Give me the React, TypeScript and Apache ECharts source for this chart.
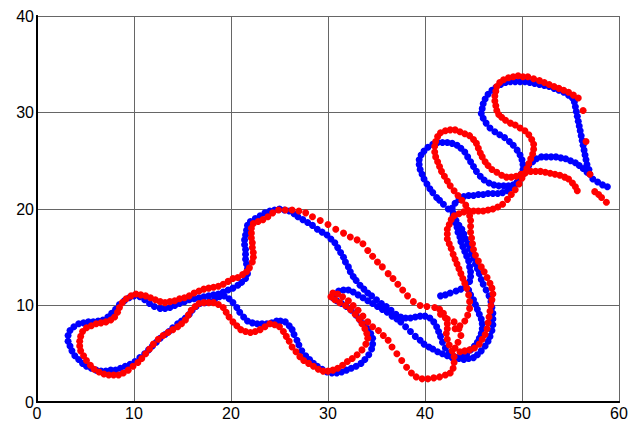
import React, { useEffect, useRef } from "react";
import * as echarts from "echarts";

type P = [number, number];

const xTicks = [0, 10, 20, 30, 40, 50, 60];
const yTicks = [0, 10, 20, 30, 40];

// ---------- BLUE track ----------
const blueTail: P[] = [[58.8,22.3],[58.3,22.5],[57.8,22.8],[57.3,23.1],[57.0,23.6],[56.9,24.1],[56.7,24.6],[56.6,25.1],[56.5,25.6],[56.4,26.1],[56.3,26.6],[56.2,27.1],[56.1,27.6],[56.0,28.1],[55.9,28.6],[55.8,29.1],[55.7,29.6],[55.6,30.1],[55.5,30.6],[55.4,31.1],[55.2,31.5]];
const blueTop: P[] = [[54.8,31.8],[54.3,32.1],[53.8,32.3],[53.3,32.5],[52.8,32.7],[52.3,32.8],[51.8,32.9],[51.3,33.0],[50.8,33.1],[50.3,33.2],[49.8,33.2],[49.3,33.2],[48.8,33.2],[48.3,33.1],[47.8,32.9],[47.3,32.6],[46.9,32.3],[46.5,31.9],[46.2,31.4],[46.0,30.9],[45.9,30.4]];
const blueS: P[] = [[45.8,29.9],[46.0,29.4],[46.3,28.9],[46.7,28.4],[47.2,28.0],[47.7,27.7],[48.2,27.4],[48.7,27.0],[49.1,26.6],[49.5,26.1],[49.8,25.6],[50.0,25.1],[50.1,24.6],[50.1,24.1],[49.9,23.6],[49.7,23.1],[49.4,22.6],[49.0,22.2],[48.5,21.9],[48.0,21.7],[47.5,21.6],[47.0,21.6],[46.5,21.6],[46.0,21.5],[45.5,21.5],[45.0,21.4],[44.5,21.4],[44.0,21.3],[43.5,21.0],[43.1,20.6],[42.8,20.1]];
const blueTwinA: P[] = [[42.9,19.6],[43.0,19.1],[43.1,18.6],[43.3,18.1],[43.4,17.6],[43.6,17.1],[43.7,16.6],[43.9,16.1],[44.1,15.6],[44.3,15.1],[44.5,14.6],[44.6,14.0],[44.7,13.5],[44.7,13.0],[44.6,12.5]];
const blueSpike: P[] = [[44.2,12.1],[43.7,11.7],[43.2,11.5],[42.6,11.3],[42.1,11.1],[41.6,11.0]];
const blueInner: P[] = [[44.5,11.6],[44.7,11.1],[45.0,10.6],[45.2,10.1],[45.4,9.6],[45.6,9.1],[45.8,8.6],[45.9,8.1],[45.9,7.6],[45.8,7.1],[45.6,6.6],[45.4,6.2],[45.1,5.8],[44.7,5.4],[44.3,5.0],[43.8,4.7],[43.3,4.6]];
const blueLower: P[] = [[42.8,4.6],[42.3,4.8],[41.8,5.0],[41.3,5.2],[40.8,5.5],[40.4,5.7],[39.9,6.0],[39.5,6.4],[39.0,6.8],[38.5,7.3],[38.0,7.8],[37.5,8.3],[37.1,8.6],[36.6,8.9],[36.1,9.3],[35.6,9.6],[35.1,9.9],[34.6,10.2],[34.1,10.5],[33.6,10.8],[33.1,11.1],[32.6,11.4],[32.1,11.6],[31.6,11.6],[31.1,11.5],[30.7,11.2],[30.5,10.8]];
const blueU: P[] = [[30.9,10.5],[31.4,10.2],[31.9,9.9],[32.4,9.5],[32.9,9.0],[33.3,8.5],[33.7,8.1],[34.1,7.6],[34.4,7.1],[34.6,6.6],[34.6,6.0],[34.5,5.5],[34.2,4.9],[33.8,4.4],[33.4,4.0],[32.9,3.7],[32.4,3.5],[31.9,3.3],[31.4,3.1],[30.9,3.0],[30.4,3.0],[29.9,3.1],[29.4,3.4],[28.9,3.7],[28.5,4.0],[28.1,4.4],[27.7,4.8],[27.3,5.3],[27.0,5.9],[26.8,6.4],[26.5,7.0],[26.3,7.5],[26.0,7.9],[25.6,8.3],[25.1,8.4],[24.7,8.4],[24.2,8.2],[23.7,8.1],[23.2,8.1],[22.7,8.1],[22.2,8.2],[21.7,8.4],[21.3,8.8],[20.9,9.3],[20.6,9.8],[20.2,10.3],[19.8,10.7],[19.3,11.0],[18.8,10.9]];
const blueLeftLoop: P[] = [[18.3,10.6],[17.8,10.4],[17.3,10.3],[16.8,10.2],[16.4,9.9],[16.0,9.5],[15.7,9.1],[15.3,8.7],[14.9,8.4],[14.5,8.1],[14.0,7.7],[13.6,7.3],[13.2,7.0],[12.7,6.6],[12.3,6.2],[11.9,5.8],[11.5,5.4],[11.1,5.0],[10.6,4.6],[10.1,4.2],[9.6,3.9],[9.1,3.7],[8.6,3.5],[8.1,3.3],[7.6,3.3],[7.1,3.2],[6.6,3.2],[6.1,3.3],[5.6,3.5],[5.1,3.7],[4.7,4.0],[4.3,4.4],[3.9,4.8],[3.6,5.3],[3.4,5.8],[3.2,6.3],[3.2,6.9],[3.4,7.4],[3.8,7.8],[4.3,8.1],[4.8,8.2],[5.3,8.3],[5.8,8.3],[6.3,8.4],[6.8,8.5],[7.3,8.8],[7.7,9.2],[8.1,9.6],[8.5,10.1],[9.0,10.5],[9.5,10.8],[10.0,11.0],[10.6,10.9]];
const blueUpper: P[] = [[11.1,10.6],[11.6,10.2],[12.1,9.9],[12.7,9.7],[13.2,9.7],[13.7,9.8],[14.2,10.0],[14.7,10.2],[15.2,10.4],[15.7,10.6],[16.2,10.7],[16.7,10.8],[17.2,10.9],[17.7,11.0],[18.2,11.1],[18.7,11.2],[19.2,11.4],[19.7,11.6],[20.2,11.8],[20.7,12.1],[21.1,12.4],[21.5,12.8]];
const blueHump: P[] = [[21.7,13.3],[21.7,13.8],[21.6,14.3],[21.5,14.8],[21.5,15.3],[21.5,15.8],[21.4,16.3],[21.4,16.8],[21.5,17.3],[21.6,17.8],[21.7,18.3],[22.0,18.7],[22.5,19.0],[23.0,19.3],[23.5,19.6],[24.0,19.8],[24.5,19.9],[25.0,20.0],[25.5,19.9],[26.0,19.8],[26.5,19.5],[26.9,19.2],[27.4,18.9],[27.9,18.6],[28.4,18.3],[28.9,17.9],[29.4,17.6],[29.9,17.3],[30.3,16.9],[30.7,16.5],[31.0,16.0],[31.3,15.5],[31.6,15.0],[31.8,14.5],[32.1,14.0],[32.3,13.5],[32.6,13.0],[32.9,12.6],[33.3,12.1],[33.7,11.7],[34.1,11.3],[34.5,11.0],[35.0,10.6],[35.5,10.2],[36.0,9.9],[36.5,9.5],[37.0,9.1],[37.5,8.8],[38.0,8.7],[38.5,8.7],[39.0,8.8],[39.5,8.9],[40.0,8.9],[40.5,8.7]];
const blueOuter: P[] = [[40.9,8.3],[41.2,7.8],[41.4,7.3],[41.6,6.8],[41.8,6.2],[42.1,5.6],[42.5,5.1],[43.0,4.7],[43.5,4.5],[44.0,4.4],[44.5,4.5],[45.0,4.6],[45.4,4.9],[45.8,5.3],[46.2,5.8],[46.5,6.3],[46.7,6.8],[46.9,7.4],[47.0,8.0],[47.0,8.6],[47.0,9.2],[46.9,9.8],[46.8,10.4],[46.6,11.0],[46.3,11.6],[46.0,12.2],[45.8,12.7],[45.6,13.3],[45.4,13.8],[45.2,14.3],[45.0,14.9],[44.8,15.4],[44.6,15.9],[44.4,16.4],[44.2,16.9],[44.0,17.4],[43.8,17.9],[43.5,18.3],[43.2,18.8],[42.9,19.3]];
const blueLowerLoop: P[] = [[42.4,20.0],[41.9,20.5],[41.5,20.9],[41.2,21.2],[40.8,21.7],[40.5,22.1],[40.2,22.6],[39.9,23.1],[39.7,23.6],[39.5,24.1],[39.4,24.6],[39.4,25.1],[39.6,25.6],[39.9,26.0],[40.3,26.4],[40.8,26.7],[41.3,26.9],[41.8,26.9],[42.3,26.9],[42.8,26.8],[43.3,26.6],[43.7,26.3],[44.1,25.9],[44.4,25.4],[44.7,24.9],[45.0,24.4],[45.3,23.9],[45.7,23.4],[46.1,23.0],[46.6,22.7],[47.1,22.5],[47.6,22.4],[48.1,22.4],[48.6,22.4],[49.1,22.5],[49.5,22.8],[49.8,23.2],[50.1,23.6],[50.4,24.0],[50.7,24.5],[51.1,24.9],[51.5,25.2],[52.0,25.4],[52.5,25.4],[53.0,25.4],[53.5,25.4],[54.0,25.3],[54.5,25.2],[55.0,25.0],[55.5,24.8],[55.9,24.5],[56.3,24.2],[56.7,23.8]];

// ---------- RED track ----------
const redTail: P[] = [[58.7,20.7],[58.2,21.2],[57.9,21.5],[57.5,21.8]];
const redSparse: P[] = [[57.0,23.6],[56.6,27.0],[56.3,30.2]];
const redTop: P[] = [[55.8,31.5],[55.3,31.8],[54.8,32.1],[54.3,32.3],[53.8,32.5],[53.3,32.7],[52.8,32.9],[52.3,33.1],[51.8,33.3],[51.2,33.5],[50.6,33.7],[50.1,33.7],[49.6,33.8],[49.1,33.7],[48.6,33.6],[48.1,33.4]];
const redS: P[] = [[47.7,33.1],[47.4,32.7],[47.3,32.2],[47.2,31.7],[47.2,31.2],[47.3,30.7],[47.4,30.2],[47.6,29.8],[47.9,29.5],[48.3,29.2],[48.8,28.9],[49.3,28.7],[49.8,28.4],[50.3,28.1],[50.7,27.7],[51.0,27.2],[51.2,26.7],[51.2,26.2],[51.1,25.7],[50.9,25.2],[50.7,24.7],[50.5,24.2],[50.3,23.7],[50.0,23.2],[49.7,22.6],[49.3,22.0],[48.9,21.5],[48.5,21.0],[48.0,20.5],[47.5,20.2],[47.0,20.0],[46.5,19.9],[46.0,19.8],[45.5,19.8],[45.0,19.8],[44.5,19.8],[44.0,19.7],[43.5,19.5],[43.0,19.3]];
const redTwinA: P[] = [[42.7,18.9],[42.5,18.4],[42.3,17.9],[42.3,17.4],[42.3,16.9],[42.5,16.4],[42.7,15.9],[42.9,15.3],[43.1,14.8],[43.3,14.3],[43.5,13.8],[43.7,13.3],[43.9,12.8],[44.1,12.3],[44.3,11.8]];
const redDotted: P[] = [[44.5,11.1],[44.6,10.4],[44.6,9.7],[44.4,9.0],[44.1,8.4],[43.6,7.9],[43.1,7.6]];
const redTangle: P[] = [[41.6,9.1],[42.3,8.6],[43.0,8.3],[43.5,7.6],[43.7,6.9],[43.4,6.2],[43.1,5.6]];
const redDrop: P[] = [[41.0,9.8],[41.5,9.6],[41.9,9.2],[42.1,8.7],[42.3,8.1],[42.3,7.6],[42.2,7.1],[42.3,6.5],[42.5,5.9],[42.8,5.3],[43.0,4.7],[43.0,4.1],[42.9,3.5],[42.6,3.0],[42.1,2.8],[41.5,2.6],[40.9,2.5],[40.3,2.4],[39.7,2.4]];
const redRight: P[] = [[43.6,5.2],[44.1,5.3],[44.6,5.4],[45.1,5.6],[45.6,6.0],[45.9,6.5],[46.2,7.0],[46.4,7.6],[46.5,8.2],[46.6,8.8],[46.7,9.4],[46.8,10.0],[46.9,10.6],[47.0,11.2],[46.9,11.8],[46.7,12.3],[46.4,12.9],[46.1,13.5],[45.8,14.0],[45.5,14.6],[45.2,15.2],[45.0,15.8],[44.9,16.4],[44.8,17.0],[44.7,17.6],[44.7,18.2],[44.7,18.8],[44.6,19.3],[44.4,19.9]];
const redLowerLoop: P[] = [[44.2,20.4],[43.8,20.9],[43.4,21.4],[43.0,21.9],[42.6,22.4],[42.3,22.9],[42.0,23.4],[41.7,23.9],[41.5,24.4],[41.3,24.9],[41.1,25.4],[41.0,25.9],[41.0,26.5],[41.1,27.0],[41.3,27.5],[41.6,27.9],[42.1,28.1],[42.6,28.2],[43.1,28.2],[43.6,28.0],[44.1,27.8],[44.6,27.6],[45.0,27.2],[45.3,26.8],[45.5,26.3],[45.7,25.8],[45.9,25.4],[46.2,24.9],[46.5,24.5],[46.9,24.1],[47.4,23.8],[47.9,23.5],[48.4,23.3],[48.9,23.3],[49.4,23.4],[49.9,23.6]];
const redArc: P[] = [[50.4,23.8],[50.9,23.9],[51.4,23.9],[51.9,23.9],[52.4,23.8],[52.9,23.7],[53.4,23.6],[53.9,23.5],[54.4,23.3],[54.8,23.1],[55.2,22.7],[55.5,22.3],[55.7,21.9]];
const redDashes: P[] = [[39.1,2.6],[38.6,3.0],[38.1,3.6],[37.6,4.3],[37.1,5.0],[36.6,5.7],[36.2,6.4],[35.7,6.9],[35.2,7.4],[34.6,7.8]];
const redHairpin: P[] = [[34.1,8.3],[33.6,8.9],[33.1,9.5],[32.6,10.0],[32.1,10.5],[31.5,10.9],[31.0,11.2],[30.5,11.3],[30.3,10.9],[30.7,10.6],[31.2,10.3],[31.8,10.0],[32.3,9.6],[32.8,9.1],[33.2,8.6],[33.5,8.1],[33.8,7.6],[34.0,7.1],[34.1,6.6],[33.9,6.0],[33.5,5.4],[33.0,4.9],[32.5,4.5],[32.0,4.2],[31.5,3.8],[31.0,3.5],[30.5,3.3],[30.0,3.2],[29.5,3.2],[29.0,3.4],[28.5,3.7],[28.0,4.0],[27.5,4.3],[27.1,4.7],[26.7,5.2],[26.3,5.7],[26.0,6.3],[25.7,6.8],[25.4,7.3],[25.0,7.8],[24.5,8.0],[24.0,8.1],[23.5,7.8],[23.0,7.5],[22.5,7.3],[22.0,7.2],[21.5,7.3],[21.0,7.5],[20.6,7.9],[20.2,8.3],[19.8,8.8],[19.5,9.3],[19.2,9.8]];
const redLeftLoop: P[] = [[18.7,10.1],[18.2,10.3],[17.7,10.3],[17.2,10.3],[16.7,10.2],[16.3,9.9],[15.9,9.5],[15.6,9.0],[15.3,8.5],[14.9,8.1],[14.5,7.8],[14.0,7.5],[13.5,7.2],[13.0,6.9],[12.5,6.5],[12.0,6.0],[11.6,5.5],[11.2,5.0],[10.8,4.5],[10.4,4.1],[9.9,3.7],[9.4,3.3],[8.9,3.0],[8.4,2.8],[7.9,2.8],[7.4,2.8],[6.9,2.9],[6.4,3.1],[5.9,3.4],[5.5,3.8],[5.1,4.3],[4.8,4.8],[4.5,5.3],[4.4,5.8],[4.4,6.3],[4.5,6.8],[4.7,7.3],[5.1,7.7],[5.6,7.9],[6.1,8.1],[6.6,8.2],[7.1,8.3],[7.6,8.5],[8.0,8.8],[8.3,9.3],[8.5,9.8],[8.8,10.3],[9.2,10.7],[9.7,11.0],[10.2,11.2]];
const redUpper: P[] = [[10.7,11.1],[11.2,11.0],[11.7,10.8],[12.2,10.6],[12.7,10.4],[13.2,10.3],[13.7,10.4],[14.2,10.5],[14.7,10.7],[15.2,10.8],[15.7,11.0],[16.2,11.3],[16.7,11.5],[17.2,11.7],[17.7,11.8],[18.2,11.9],[18.7,12.0],[19.2,12.2],[19.7,12.5],[20.2,12.8],[20.7,12.9],[21.2,13.2],[21.6,13.5]];
const redHump: P[] = [[21.9,13.9],[22.2,14.5],[22.3,15.0],[22.3,15.5],[22.2,16.0],[22.2,16.5],[22.1,17.0],[22.1,17.5],[22.1,18.0],[22.3,18.5],[22.8,18.7],[23.3,18.9],[23.8,19.2],[24.3,19.6],[24.9,19.9],[25.6,19.9],[26.3,19.9],[27.0,19.8],[27.7,19.6],[28.4,19.2],[29.2,18.8],[30.0,18.4],[30.8,17.9],[31.6,17.5],[32.3,17.1],[33.0,16.8],[33.6,16.4],[34.1,15.7],[34.6,15.1],[35.1,14.5],[35.6,14.0],[36.2,13.3],[36.7,12.8],[37.2,12.2],[37.7,11.6],[38.2,11.0],[38.8,10.4],[39.5,10.0],[40.2,9.9]];

const bluePoints: P[] = [
  ...blueTail, ...blueTop, ...blueS, ...blueTwinA, ...blueSpike, ...blueInner,
  ...blueLower, ...blueU, ...blueLeftLoop, ...blueUpper, ...blueHump, ...blueOuter, ...blueLowerLoop,
];
const redPoints: P[] = [
  ...redTail, ...redSparse, ...redTop, ...redS, ...redTwinA, ...redDotted, ...redTangle,
  ...redDrop, ...redRight, ...redLowerLoop, ...redArc, ...redDashes, ...redHairpin,
  ...redLeftLoop, ...redUpper, ...redHump,
];

const FONT = "'Liberation Sans', Arial, sans-serif";

export default function App() {
  const ref = useRef<HTMLDivElement>(null);
  useEffect(() => {
    if (!ref.current) return;
    const chart = echarts.init(ref.current, undefined, { renderer: "svg" });
    const frameAxis = {
      show: true,
      axisLine: { show: true, lineStyle: { color: "#000", width: 2 } },
      axisTick: { show: false },
      axisLabel: { show: false },
      splitLine: { show: false },
    };
    chart.setOption({
      animation: false,
      backgroundColor: "#fff",
      grid: { left: 37, right: 14, top: 16, bottom: 18, containLabel: false },
      xAxis: [
        {
          type: "value",
          min: xTicks[0],
          max: xTicks[xTicks.length - 1],
          interval: 10,
          axisLine: { show: true, onZero: false, lineStyle: { color: "#000", width: 2 } },
          axisTick: { show: false },
          axisLabel: { color: "#000", fontSize: 16, fontFamily: FONT, margin: 3 },
          splitLine: { show: true, lineStyle: { color: "#666", width: 1 } },
        },
        { type: "value", position: "top", min: 0, max: 60, ...frameAxis },
      ],
      yAxis: [
        {
          type: "value",
          min: yTicks[0],
          max: yTicks[yTicks.length - 1],
          interval: 10,
          axisLine: { show: true, onZero: false, lineStyle: { color: "#000", width: 2 } },
          axisTick: { show: false },
          axisLabel: { color: "#000", fontSize: 16, fontFamily: FONT, margin: 3 },
          splitLine: { show: true, lineStyle: { color: "#666", width: 1 } },
        },
        { type: "value", position: "right", min: 0, max: 40, ...frameAxis },
      ],
      series: [
        {
          type: "scatter",
          name: "blue",
          data: bluePoints,
          symbol: "circle",
          symbolSize: 7,
          itemStyle: { color: "#0000ff", opacity: 1 },
          silent: true,
        },
        {
          type: "scatter",
          name: "red",
          data: redPoints,
          symbol: "circle",
          symbolSize: 7,
          itemStyle: { color: "#ff0000", opacity: 1 },
          silent: true,
        },
      ],
    });
    return () => chart.dispose();
  }, []);
  return (
    <div
      ref={ref}
      style={{ position: "fixed", left: 0, top: 0, width: 633, height: 421, background: "#fff" }}
    />
  );
}
